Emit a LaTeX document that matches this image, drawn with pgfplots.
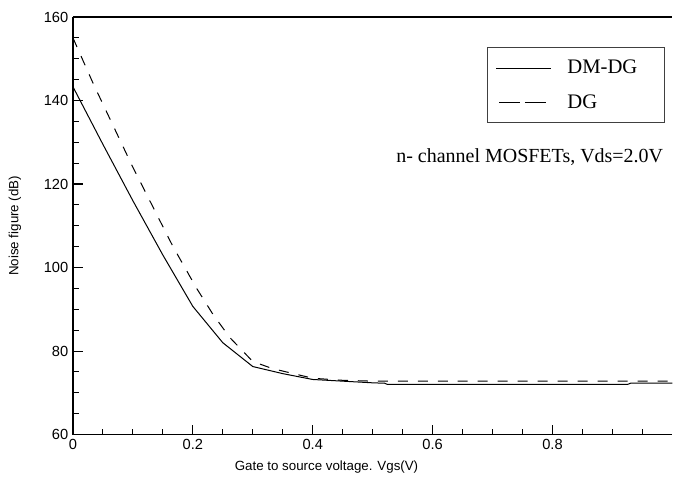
\documentclass[border=0pt]{standalone}
\usepackage{pgfplots}
\pgfplotsset{compat=1.18}
\usepackage{fontspec}
\setmainfont{Liberation Sans}
\newfontfamily\serif{Liberation Serif}

\begin{document}
\begin{tikzpicture}
\begin{axis}[
  scale only axis,
  width=450pt, height=313.5pt,
  xmin=0, xmax=1, ymin=60, ymax=160,
  axis lines=left,
  axis line style={-, line width=0.9pt},
  tick align=inside,
  tick style={black, line width=0.8pt},
  major tick length=7.5pt,
  minor tick length=4.5pt,
  xtick={0,0.2,0.4,0.6,0.8},
  minor xtick={0.05,0.1,0.15,0.25,0.3,0.35,0.45,0.5,0.55,0.65,0.7,0.75,0.85,0.9,0.95},
  ytick={60,80,...,160},
  minor ytick={65,70,75,85,90,95,105,110,115,125,130,135,145,150,155},
  xticklabel style={/pgf/number format/fixed},
  /pgf/number format/assume math mode=true,
  ticklabel style={font=\fontsize{11}{13}\selectfont},
  xlabel={Gate to source voltage. Vgs(V)},
  ylabel={Noise figure (dB)},
  label style={font=\fontsize{11}{13}\selectfont},
  every axis x label/.style={at={([yshift=-24pt]axis description cs:0.423,0)}, anchor=center},
  every axis y label/.style={at={([xshift=-43.5pt]axis description cs:0,0.5)}, rotate=90, anchor=center},
  legend style={at={(rel axis cs:0.988,0.928)}, anchor=north east,
    draw=black!75, line width=0.8pt, inner xsep=6pt, inner ysep=7.5pt, row sep=10pt,
    font=\fontsize{15.5}{18}\selectfont\serif},
  legend cell align=left,
  legend image code/.code={\draw[#1] (0pt,0pt) -- (41pt,0pt);},
  clip=false,
]
\addlegendimage{black, line width=0.75pt}
\addlegendentry{\hspace{10pt}\makebox[65pt][l]{DM-DG}}
\addlegendimage{legend image code/.code={\draw[black, line width=0.75pt, dash pattern=on 15.5pt off 4pt] (2pt,0pt) -- (37pt,0pt);}}
\addlegendentry{\hspace{10pt}\makebox[65pt][l]{DG}}
\addplot[black, line width=0.75pt, forget plot] coordinates {
  (0,143.3) (0.05,129.5) (0.1,116) (0.15,103) (0.2,90.7) (0.25,82)
  (0.3,76.3) (0.35,74.6) (0.4,73.2) (0.45,72.8) (0.5,72.4) (0.52,72.3)
  (0.525,72.0) (0.925,72.0) (0.93,72.3) (1.0,72.3)
};
\addplot[black, line width=0.75pt, dash pattern=on 7.5pt off 7.5pt, forget plot] coordinates {
  (0,155) (0.034,144) (0.1,124) (0.167,105) (0.206,95.1) (0.234,88.7)
  (0.262,83.2) (0.3,77.5) (0.333,75.8) (0.4,73.5) (0.45,73.0) (0.5,72.8) (1.0,72.8)
};
\draw[black, line width=0.9pt] (rel axis cs:0,1) -- (rel axis cs:1,1);
\node[font=\fontsize{15}{18}\selectfont\serif] at (rel axis cs:0.762,0.665) {n- channel MOSFETs, Vds=2.0V};
\path ([shift={(-54.75pt,-39pt)}]rel axis cs:0,0) rectangle ([shift={(0pt,12.75pt)}]rel axis cs:1,1);
\end{axis}
\end{tikzpicture}
\end{document}
